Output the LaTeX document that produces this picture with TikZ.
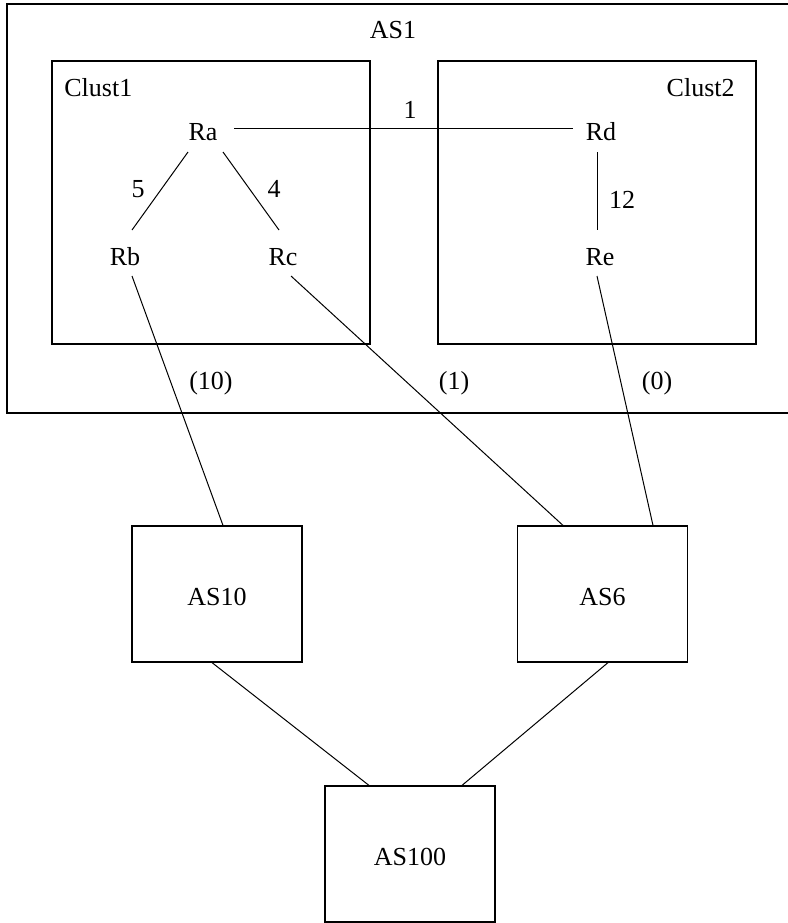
\documentclass[tikz,border=0pt]{standalone}
\usepackage{fontspec}
\setmainfont{Liberation Serif}
\usetikzlibrary{calc}
\begin{document}
\begin{tikzpicture}[x=0.5pt,y=-0.5pt,
  font=\fontsize{13}{15}\selectfont,
  lbl/.style={inner sep=0pt,anchor=base},
  frame/.style={draw,line width=0.6pt,inner sep=0pt,rectangle},
  asbox/.style={frame,minimum width=85pt,minimum height=68pt,text height=11.5pt,text depth=0pt},
  clbox/.style={frame,minimum width=159pt,minimum height=141.5pt},
  link/.style={line width=0.5pt}]
\useasboundingbox (0,0) rectangle (788,923);

% autonomous system AS1 with its two clusters
\node[frame,minimum width=396.5pt,minimum height=204.5pt] (as1) at (403.5,208.5) {};
\node[lbl] (as1lbl) at (393,38) {AS1};
\node[clbox] (cl1) at (211,202.5) {};
\node[clbox] (cl2) at (597,202.5) {};
\node[lbl,anchor=base west] (cl1lbl) at (64,96) {Clust1};
\node[lbl,anchor=base east] (cl2lbl) at (735,96) {Clust2};

% routers
\node[lbl] (Ra) at (203,140) {Ra};
\node[lbl] (Rb) at (125,265) {Rb};
\node[lbl] (Rc) at (283,265) {Rc};
\node[lbl] (Rd) at (601,140) {Rd};
\node[lbl] (Re) at (600,265) {Re};

% neighbouring autonomous systems
\node[asbox] (as10) at (217,594) {AS10};
\node[asbox] (as6) at (602.5,594) {AS6};
\node[asbox] (as100) at (410,854) {AS100};

% internal links with their costs
\draw[link] ($(Ra.base)+(31,-12)$) -- ($(Rd.base)+(-28,-12)$);
\draw[link] ($(Ra.base)+(-15,12)$) -- ($(Rb.base)+(7,-35)$);
\draw[link] ($(Ra.base)+(20,12)$) -- ($(Rc.base)+(-4,-35)$);
\draw[link] ($(Rd.base)+(-4,12)$) -- ($(Re.base)+(-3,-35)$);
\node[lbl] (w1) at (410,118) {1};
\node[lbl] (w5) at (138,197) {5};
\node[lbl] (w4) at (274,197) {4};
\node[lbl] (w12) at (622,208) {12};

% external links with their preferences
\draw[link] ($(Rb.base)+(7,11)$) -- ($(as10.north)+(6,0)$);
\draw[link] ($(Rc.base)+(8,11)$) -- ($(as6.north)+(-39.5,0)$);
\draw[link] ($(Re.base)+(-3,11)$) -- ($(as6.north)+(50.5,0)$);
\node[lbl] (p10) at (211,389) {(10)};
\node[lbl] (p1) at (454,389) {(1)};
\node[lbl] (p0) at (657,389) {(0)};

% links to AS100
\draw[link] ($(as10.south)+(-5,0)$) -- ($(as100.north)+(-41,0)$);
\draw[link] ($(as6.south)+(5.5,0)$) -- ($(as100.north)+(52,0)$);
\end{tikzpicture}
\end{document}
